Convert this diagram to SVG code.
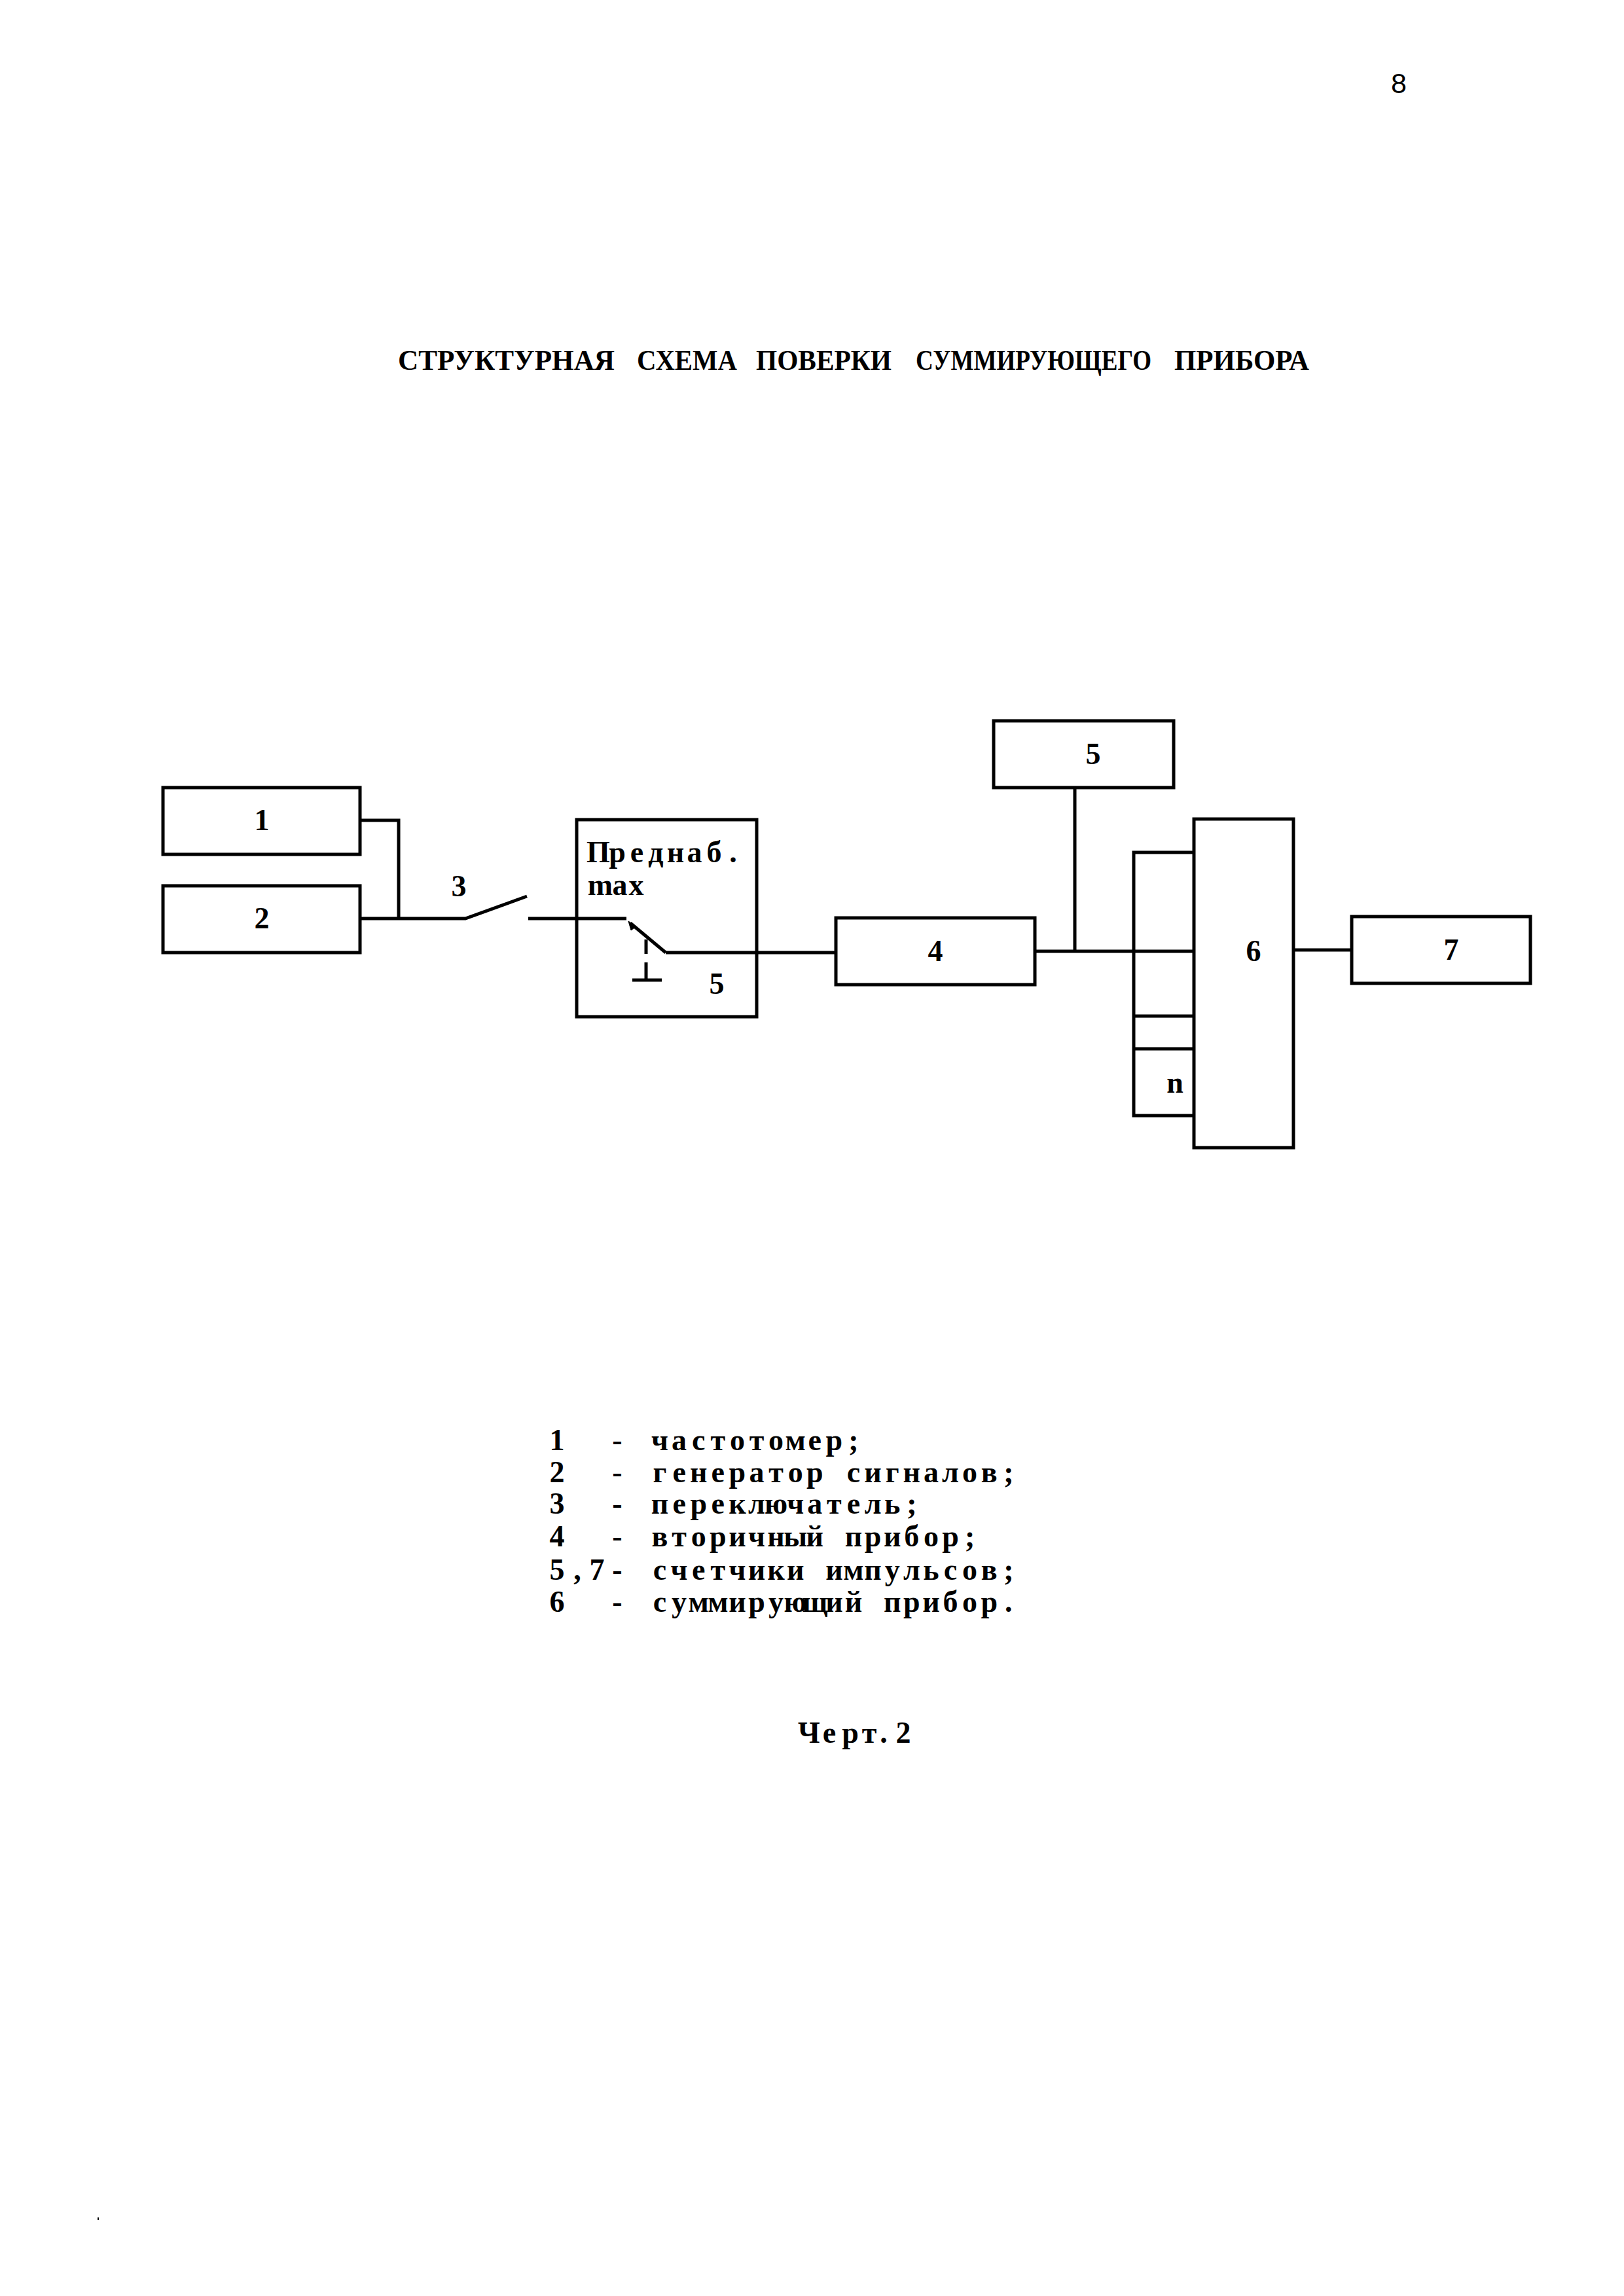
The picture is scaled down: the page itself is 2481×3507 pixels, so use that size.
<svg xmlns="http://www.w3.org/2000/svg" width="2481" height="3507" viewBox="0 0 2481 3507">
<style>
text{font-family:"Liberation Serif","DejaVu Serif",serif;font-weight:bold;fill:#000;font-size:46px}
.m{text-anchor:middle;dominant-baseline:central}
.g{text-anchor:middle}
.t{font-size:45px}
.n{font-family:"Liberation Sans",sans-serif;font-weight:normal;font-size:43px}
rect{fill:#fff;stroke:#000;stroke-width:5}
.c path{fill:none;stroke:#000;stroke-width:5}
</style>
<rect x="0" y="0" width="2481" height="3507" style="fill:#fff;stroke:none"/>
<text id="page" x="2125" y="142" class="n">8</text>
<g id="title">
<text class="t" x="608" y="565" textLength="331" lengthAdjust="spacingAndGlyphs">СТРУКТУРНАЯ</text>
<text class="t" x="973" y="565" textLength="153" lengthAdjust="spacingAndGlyphs">СХЕМА</text>
<text class="t" x="1155" y="565" textLength="207" lengthAdjust="spacingAndGlyphs">ПОВЕРКИ</text>
<text class="t" transform="translate(1399 565) scale(.8 1)" textLength="450" lengthAdjust="spacingAndGlyphs">СУММИРУЮЩЕГО</text>
<text class="t" x="1794" y="565" textLength="206" lengthAdjust="spacingAndGlyphs">ПРИБОРА</text>
</g>
<g id="connectors" class="c">
<path d="M550 1253H609V1403"/>
<path d="M550 1403H711L805 1369"/>
<path d="M807 1403H957"/>
<path d="M1017 1455L963 1410"/>
<path d="M960 1407l4 14 8-6z" style="fill:#000;stroke-width:1"/>
<path d="M1017 1455H1277"/>
<path d="M987 1435V1457M987 1470V1497M966 1497H1011"/>
<path d="M1581 1453H1824"/>
<path d="M1642 1203V1453"/>
<path d="M1976 1451H2065"/>
<path d="M1824 1302H1732V1704H1824M1732 1552H1824M1732 1602H1824"/>
</g>
<g id="node1"><rect x="249" y="1203" width="301" height="102"/><text class="m" x="400" y="1252">1</text></g>
<g id="node2"><rect x="249" y="1353" width="301" height="102"/><text class="m" x="400" y="1402">2</text></g>
<text id="label3" class="m" x="701" y="1353">3</text>
<g id="node5a"><rect x="881" y="1252" width="275" height="301" style="fill:none"/>
<text class="g" x="914 943 973 1002 1032 1061 1091 1120" y="1317">Преднаб.</text>
<text class="g" x="917 947 972" y="1367">max</text>
<text class="m" x="1095" y="1502">5</text></g>
<g id="node4"><rect x="1277" y="1402" width="304" height="102"/><text class="m" x="1429" y="1452">4</text></g>
<g id="node5b"><rect x="1518" y="1101" width="275" height="102"/><text class="m" x="1670" y="1151">5</text></g>
<g id="node6"><rect x="1824" y="1251" width="152" height="502"/><text class="m" x="1915" y="1452">6</text></g>
<g id="node7"><rect x="2065" y="1400" width="273" height="102"/><text class="m" x="2217" y="1450">7</text></g>
<text id="labeln" class="m" x="1795" y="1653">n</text>
<g id="legend">
<text class="g" x="851" y="2215">1</text><text class="g" x="943" y="2215">-</text>
<text class="g" y="2215" x="1008 1037.6 1067.2 1096.8 1126.4 1156 1185.6 1215.2 1244.8 1274.4 1304">частотомер;</text>
<text class="g" x="851" y="2264">2</text><text class="g" x="943" y="2264">-</text>
<text class="g" y="2264" x="1008 1037.6 1067.2 1096.8 1126.4 1156 1185.6 1215.2 1244.8 1274.4 1304 1333.6 1363.2 1392.8 1422.4 1452 1481.6 1511.2 1540.8">генератор сигналов;</text>
<text class="g" x="851" y="2312">3</text><text class="g" x="943" y="2312">-</text>
<text class="g" y="2312" x="1008 1037.6 1067.2 1096.8 1126.4 1156 1185.6 1215.2 1244.8 1274.4 1304 1333.6 1363.2 1392.8">переключатель;</text>
<text class="g" x="851" y="2362">4</text><text class="g" x="943" y="2362">-</text>
<text class="g" y="2362" x="1008 1037.6 1067.2 1096.8 1126.4 1156 1185.6 1215.2 1244.8 1274.4 1304 1333.6 1363.2 1392.8 1422.4 1452 1481.6">вторичный прибор;</text>
<text class="g" x="851 882 912" y="2413">5,7</text><text class="g" x="943" y="2413">-</text>
<text class="g" y="2413" x="1008 1037.6 1067.2 1096.8 1126.4 1156 1185.6 1215.2 1244.8 1274.4 1304 1333.6 1363.2 1392.8 1422.4 1452 1481.6 1511.2 1540.8">счетчики импульсов;</text>
<text class="g" x="851" y="2462">6</text><text class="g" x="943" y="2462">-</text>
<text class="g" y="2462" x="1008 1037.6 1067.2 1096.8 1126.4 1156 1185.6 1215.2 1244.8 1274.4 1304 1333.6 1363.2 1392.8 1422.4 1452 1481.6 1511.2 1540.8">суммирующий прибор.</text>
</g>
<text id="caption" class="g" x="1236 1267 1299 1328 1350 1380" y="2662">Черт.2</text>
<path id="speck" d="M149 3387h2v4h-2z" fill="#000"/>
</svg>
